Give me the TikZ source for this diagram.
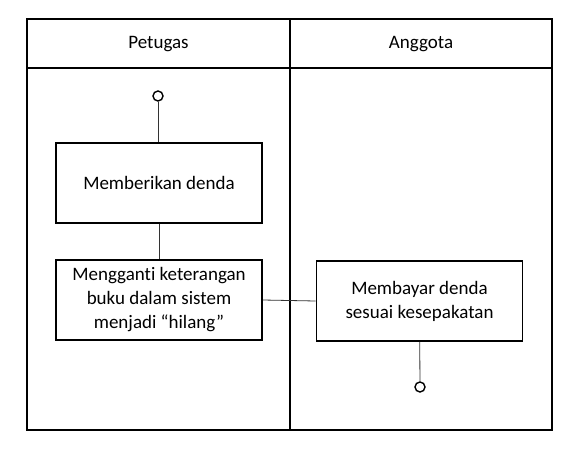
\documentclass[tikz,border=0pt]{standalone}
\usepackage{fontspec}
\setmainfont[Ligatures=NoCommon]{Carlito}
\usetikzlibrary{positioning}

\tikzset{
  aktivitas/.style={draw, line width=1.6pt, minimum width=206pt, minimum height=80pt, align=center, font=\fontsize{19}{24}\selectfont},
  titik/.style={circle, draw, line width=1.4pt, minimum size=10pt, inner sep=0pt},
  hubung/.style={line width=0.8pt, draw=black!80},
  judul/.style={font=\fontsize{19}{24}\selectfont}
}

\begin{document}
\begin{tikzpicture}[x=1pt, y=-1pt]
\useasboundingbox (0,0) rectangle (571,453);
% swimlane frame
\draw[line width=1.1pt] (27,19) rectangle (552,430);
\draw[line width=1.1pt] (27,68) -- (552,68);
\draw[line width=1.1pt] (290,19) -- (290,430);
\node[judul] (petugas) at (158.5,44) {Petugas};
\node[judul] (anggota) at (421,44) {Anggota};
% activities
\node[titik] (mulai) at (158,96) {};
\node[aktivitas] (denda) at (159,183) {Memberikan denda};
\node[aktivitas] (ganti) at (159,300) {Mengganti keterangan\\buku dalam sistem\\menjadi ``hilang''};
\node[aktivitas] (bayar) at (419.5,301) {Membayar denda\\sesuai kesepakatan};
\node[titik] (selesai) at (420,387) {};
% connectors
\draw[hubung] (mulai) -- (mulai |- denda.north);
\draw[hubung] (denda) -- (ganti);
\draw[hubung] (ganti.east) -- (bayar.west);
\draw[hubung] (bayar) -- (selesai);
\end{tikzpicture}
\end{document}
